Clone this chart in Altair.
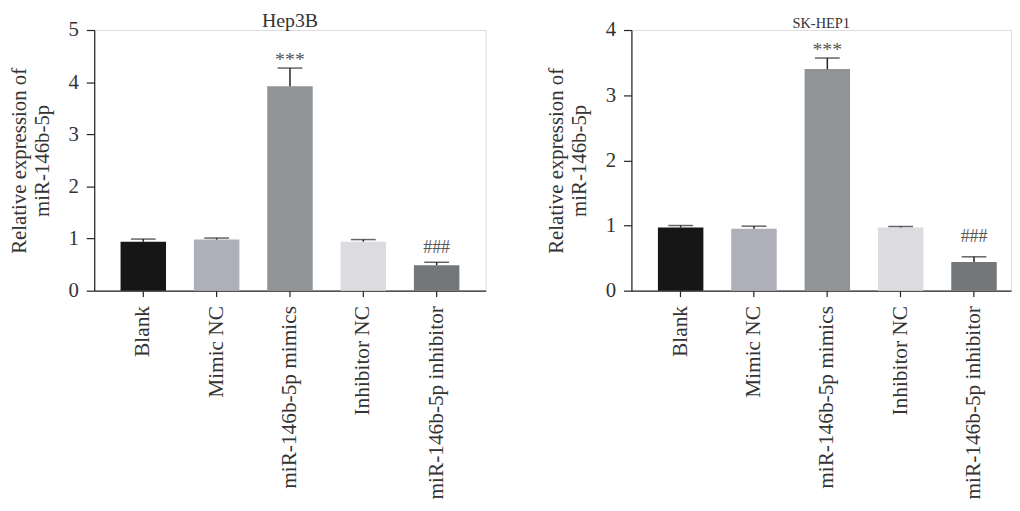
import altair as alt
import pandas as pd

groups = ["Blank", "Mimic NC", "miR-146b-5p mimics", "Inhibitor NC", "miR-146b-5p inhibitor"]
bar_colors = ["#161616", "#aeafb8", "#909497", "#dcdce0", "#73777a"]

hep3b_mean = [0.94, 0.98, 3.92, 0.94, 0.49]
hep3b_upper = [0.99, 1.01, 4.27, 0.98, 0.545]
hep3b_sig = ["", "", "***", "", "###"]

sk_mean = [0.97, 0.95, 3.40, 0.97, 0.44]
sk_upper = [1.00, 0.99, 3.57, 0.985, 0.52]
sk_sig = ["", "", "***", "", "###"]

FONT = "Liberation Serif"


def panel(mean, upper, sig, title, title_size, title_offset, ymax, width, pad_outer, align, hash_dy):
    df = pd.DataFrame({"group": groups, "mean": mean, "upper": upper, "sig": sig, "color": bar_colors})
    x = alt.X("group:N", sort=groups, title=None,
              scale=alt.Scale(paddingInner=0.38, paddingOuter=pad_outer, align=align),
              axis=alt.Axis(labelAngle=-90, labelFontSize=21.5, labelFont=FONT, labelColor="#333",
                            labelLimit=400, tickSize=6, domainColor="#222", tickColor="#222",
                            labelPadding=9, domainWidth=1.2, tickWidth=1.2))
    y = alt.Y("mean:Q", scale=alt.Scale(domain=[0, ymax], nice=False),
              title=["Relative expression of", "miR-146b-5p"],
              axis=alt.Axis(values=list(range(ymax + 1)), format="d", grid=False, tickSize=8,
                            labelFontSize=21, labelFont=FONT, labelColor="#333", titleFont=FONT,
                            titleFontSize=21, titleFontWeight="normal", titleColor="#333",
                            domainColor="#222", tickColor="#222", labelPadding=8, titlePadding=16,
                            domainWidth=1.2, tickWidth=1.2))
    base = alt.Chart(df)
    xs = alt.X("group:N", sort=groups)
    bars = base.mark_bar().encode(x=x, y=y, color=alt.Color("color:N", scale=None))
    whisk = base.mark_rule(color="#222", strokeWidth=1.5).encode(x=xs, y="mean:Q", y2="upper:Q")
    cap = base.mark_tick(color="#222", thickness=1.5, size=25, orient="horizontal").encode(x=xs, y="upper:Q")
    star = base.transform_filter(alt.datum.sig == "***").mark_text(
        font=FONT, fontSize=20, color="#555", baseline="alphabetic", dy=-2).encode(
        x=xs, y="upper:Q", text="sig:N")
    hsh = base.transform_filter(alt.datum.sig == "###").mark_text(
        font=FONT, fontSize=18, color="#555", baseline="alphabetic", dy=hash_dy).encode(
        x=xs, y="upper:Q", text="sig:N")
    return alt.layer(bars, whisk, cap, star, hsh).properties(
        width=width, height=263,
        title=alt.TitleParams(title, font=FONT, fontSize=title_size, fontWeight="normal",
                              color="#333", anchor="middle", offset=title_offset))


left = panel(hep3b_mean, hep3b_upper, hep3b_sig, "Hep3B", 20, -12, 5, 395, 0.359, 0.5, -9)
right = panel(sk_mean, sk_upper, sk_sig, "SK-HEP1", 14.5, -12, 4, 383, 0.278, 0.65, -15)

chart = alt.hconcat(left, right, spacing=59).configure_view(stroke=None).configure(padding=0)

chart.save("out.html", embed_options={"renderer": "svg", "actions": False})
